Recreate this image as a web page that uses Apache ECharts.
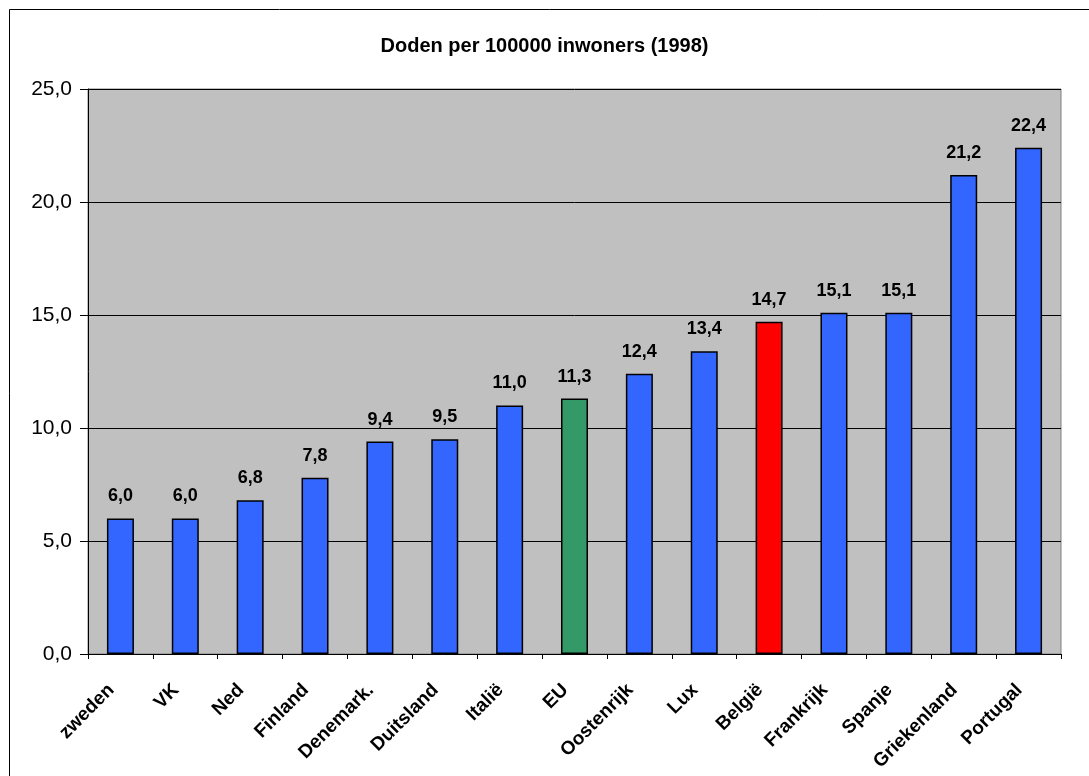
<!DOCTYPE html>
<html><head><meta charset="utf-8">
<script src="https://cdn.jsdelivr.net/npm/echarts@6/dist/echarts.min.js"></script>
<style>html,body{margin:0;padding:0;background:#fff}#c{width:1089px;height:776px}</style>
</head><body><div id="c"></div>
<script>
const categories = ['zweden','VK','Ned','Finland','Denemark.','Duitsland','Italië','EU','Oostenrijk','Lux','België','Frankrijk','Spanje','Griekenland','Portugal'];
const values = [6.0, 6.0, 6.8, 7.8, 9.4, 9.5, 11.0, 11.3, 12.4, 13.4, 14.7, 15.1, 15.1, 21.2, 22.4];
const barColors = ['#3366FF','#3366FF','#3366FF','#3366FF','#3366FF','#3366FF','#3366FF','#339966','#3366FF','#3366FF','#FF0000','#3366FF','#3366FF','#3366FF','#3366FF'];
const titleText = 'Doden per 100000 inwoners (1998)';
const fmt = v => v.toFixed(1).replace('.', ',');

const chart = echarts.init(document.getElementById('c'), null, {renderer:'canvas'});
chart.setOption({
  animation:false,
  backgroundColor:'#fff',
  title:{text:titleText,left:'center',top:31,itemGap:0,
    textStyle:{fontFamily:'Liberation Sans',fontWeight:'bold',fontSize:20,color:'#000'}},
  graphic:[{type:'rect',shape:{x:9.5,y:9.5,width:1200,height:900},style:{fill:'none',stroke:'#000',lineWidth:1},silent:true}],
  grid:{left:88,right:28,top:89,bottom:122,show:true,backgroundColor:'#C0C0C0',borderColor:'#808080',borderWidth:1},
  xAxis:{type:'category',data:categories,
    axisLine:{lineStyle:{color:'#000',width:1}},
    axisTick:{show:true,length:5,alignWithLabel:false,lineStyle:{color:'#000'}},
    axisLabel:{rotate:45,interval:0,margin:24,padding:[0,13,0,0],fontFamily:'Liberation Sans',fontWeight:'bold',fontSize:19,color:'#000'}},
  yAxis:{type:'value',min:0,max:25,interval:5,
    axisLine:{show:true,lineStyle:{color:'#000',width:1}},
    axisTick:{show:true,length:8,lineStyle:{color:'#000'}},
    splitLine:{show:true,lineStyle:{color:'#000',width:1}},
    axisLabel:{formatter:v=>fmt(v),margin:16,fontFamily:'Liberation Sans',fontSize:21,color:'#000'}},
  series:[{type:'bar',barWidth:27,
    data:values.map((v,i)=>({value:v,itemStyle:{color:barColors[i]}})),
    itemStyle:{borderColor:'#000',borderWidth:1.5},
    label:{show:true,position:'top',distance:13,formatter:p=>fmt(p.value),
      fontFamily:'Liberation Sans',fontWeight:'bold',fontSize:18,color:'#000'}}]
});
</script></body></html>
